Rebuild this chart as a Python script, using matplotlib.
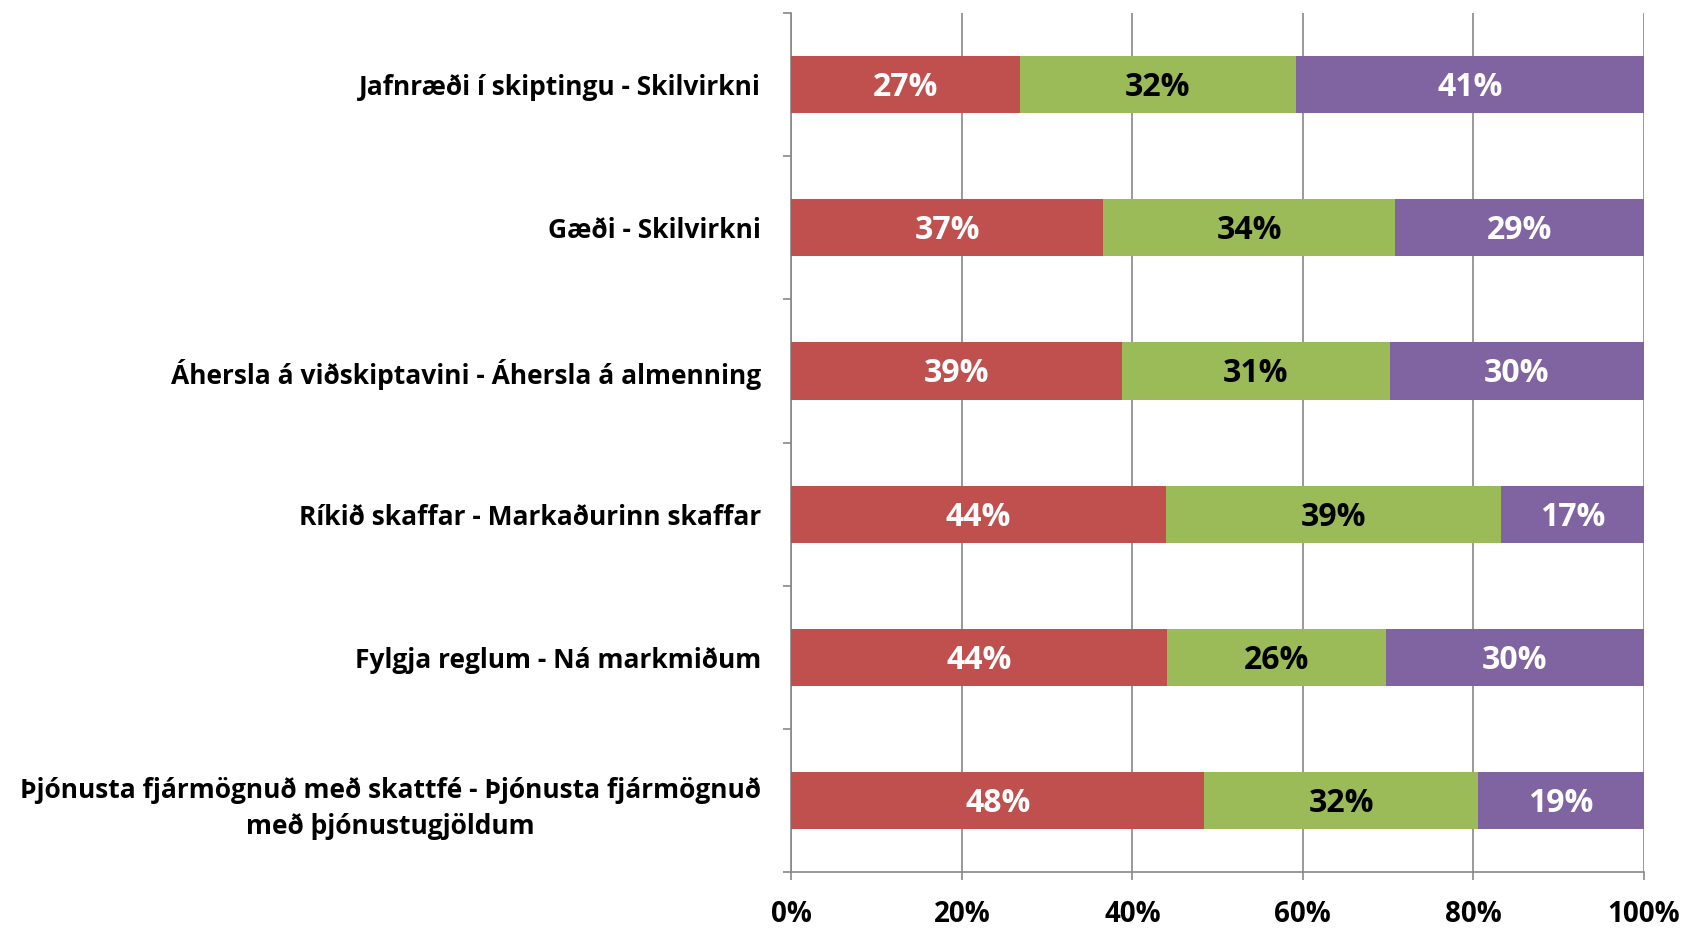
import numpy as np
import matplotlib.pyplot as plt
from matplotlib.ticker import FuncFormatter, FixedLocator

plt.rcParams['font.family'] = ['Open Sans', 'DejaVu Sans']

categories = [
    "Jafnræði í skiptingu - Skilvirkni",
    "Gæði - Skilvirkni",
    "Áhersla á viðskiptavini - Áhersla á almenning",
    "Ríkið skaffar - Markaðurinn skaffar",
    "Fylgja reglum - Ná markmiðum",
    "Þjónusta fjármögnuð með skattfé - Þjónusta fjármögnuð\nmeð þjónustugjöldum",
]
red = [26.8, 36.6, 38.8, 43.9, 44.1, 48.4]
green = [32.4, 34.2, 31.4, 39.4, 25.7, 32.2]
purple = [40.8, 29.2, 29.8, 16.7, 30.2, 19.4]
xticks = [0, 20, 40, 60, 80, 100]

series = [(red, '#C0504D', 'white'), (green, '#9BBB59', 'black'), (purple, '#8064A2', 'white')]

fig = plt.figure(figsize=(16.84, 9.30), dpi=100)
ax = fig.add_axes([0.470, 0.062, 0.506, 0.924])

y = np.arange(len(categories))
left = np.zeros(len(categories))
for vals, col, tcol in series:
    vals = np.array(vals)
    ax.barh(y, vals, left=left, height=0.4, color=col, zorder=3)
    for yi, l, v in zip(y, left, vals):
        ax.text(l + v / 2, yi + 0.02, f"{round(v):.0f}%", ha='center', va='center',
                color=tcol, fontsize=23, fontweight='bold', zorder=4)
    left = left + vals

ax.set_xlim(0, 100)
ax.set_ylim(len(categories) - 0.5, -0.5)
ax.set_xticks(xticks)
ax.xaxis.set_major_formatter(FuncFormatter(lambda v, p: f"{v:.0f}%"))
ax.grid(axis='x', color='#888888', linewidth=1.2, zorder=0)

ax.set_yticks(y)
ax.set_yticklabels(categories, fontsize=19, fontweight='bold', ha='right',
                   multialignment='center', linespacing=1.45)
ax.yaxis.set_minor_locator(FixedLocator(np.arange(-0.5, len(categories), 1)))
ax.tick_params(axis='y', which='major', length=0, pad=22)
ax.tick_params(axis='y', which='minor', length=6, color='#888888', width=1.2)
ax.tick_params(axis='x', length=6, color='#888888', width=1.2, labelsize=20, pad=14)
for lbl in ax.get_xticklabels():
    lbl.set_fontweight('bold')

for s in ['top', 'right']:
    ax.spines[s].set_visible(False)
for s in ['left', 'bottom']:
    ax.spines[s].set_color('#888888')
    ax.spines[s].set_linewidth(1.2)

fig.savefig('out.png', dpi=100)
